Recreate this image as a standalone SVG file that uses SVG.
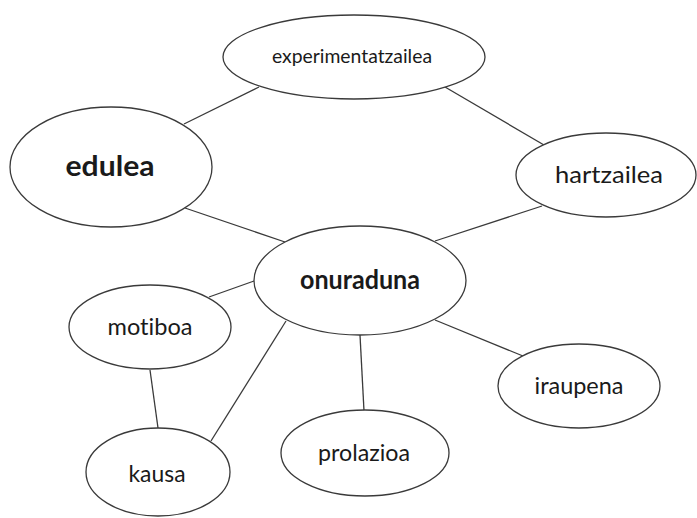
<svg xmlns="http://www.w3.org/2000/svg" width="697" height="518" viewBox="0 0 697 518">
<style>
.n ellipse{fill:#fff;stroke:#3a3a3a;stroke-width:1.3}
.c line{stroke:#3a3a3a;stroke-width:1.3}
text{font-family:Lato,"Liberation Sans",sans-serif;fill:#1a1a1a;text-anchor:middle;font-variant-ligatures:none}
.r{font-size:24px}
.b{font-size:26px;font-weight:bold}
.s{font-size:19px}
</style>
<rect width="697" height="518" fill="#fff"/>
<g class="c" id="connectors">
<line x1="184" y1="124" x2="259" y2="87"/>
<line x1="185" y1="208" x2="285" y2="242"/>
<line x1="445" y1="87" x2="544" y2="145"/>
<line x1="542" y1="206" x2="435" y2="241"/>
<line x1="209" y1="297" x2="254" y2="281"/>
<line x1="286" y1="321" x2="211" y2="441"/>
<line x1="150" y1="370" x2="158" y2="428"/>
<line x1="360" y1="335" x2="364" y2="411"/>
<line x1="435" y1="320" x2="523" y2="356"/>
</g>
<g class="n" id="experimentatzailea"><ellipse cx="354" cy="57" rx="131" ry="42"/><text class="s" x="352" y="63" textLength="160" lengthAdjust="spacingAndGlyphs">experimentatzailea</text></g>
<g class="n" id="edulea"><ellipse cx="111" cy="167" rx="101" ry="60"/><text class="b" style="font-size:29px" x="110" y="176" textLength="89" lengthAdjust="spacingAndGlyphs">edulea</text></g>
<g class="n" id="hartzailea"><ellipse cx="606" cy="175" rx="90" ry="42"/><text class="r" x="609" y="183" textLength="108" lengthAdjust="spacingAndGlyphs">hartzailea</text></g>
<g class="n" id="onuraduna"><ellipse cx="360" cy="280.5" rx="106" ry="54.5"/><text class="b" x="360" y="289" textLength="120" lengthAdjust="spacingAndGlyphs">onuraduna</text></g>
<g class="n" id="motiboa"><ellipse cx="150" cy="327" rx="81" ry="42"/><text class="r" x="150" y="335" textLength="85" lengthAdjust="spacingAndGlyphs">motiboa</text></g>
<g class="n" id="iraupena"><ellipse cx="579" cy="386" rx="81" ry="42"/><text class="r" x="579" y="394" textLength="89" lengthAdjust="spacingAndGlyphs">iraupena</text></g>
<g class="n" id="prolazioa"><ellipse cx="365" cy="453" rx="84" ry="43"/><text class="r" x="364" y="461" textLength="92" lengthAdjust="spacingAndGlyphs">prolazioa</text></g>
<g class="n" id="kausa"><ellipse cx="158" cy="472" rx="72" ry="44"/><text class="r" x="157" y="482" textLength="57" lengthAdjust="spacingAndGlyphs">kausa</text></g>
</svg>
